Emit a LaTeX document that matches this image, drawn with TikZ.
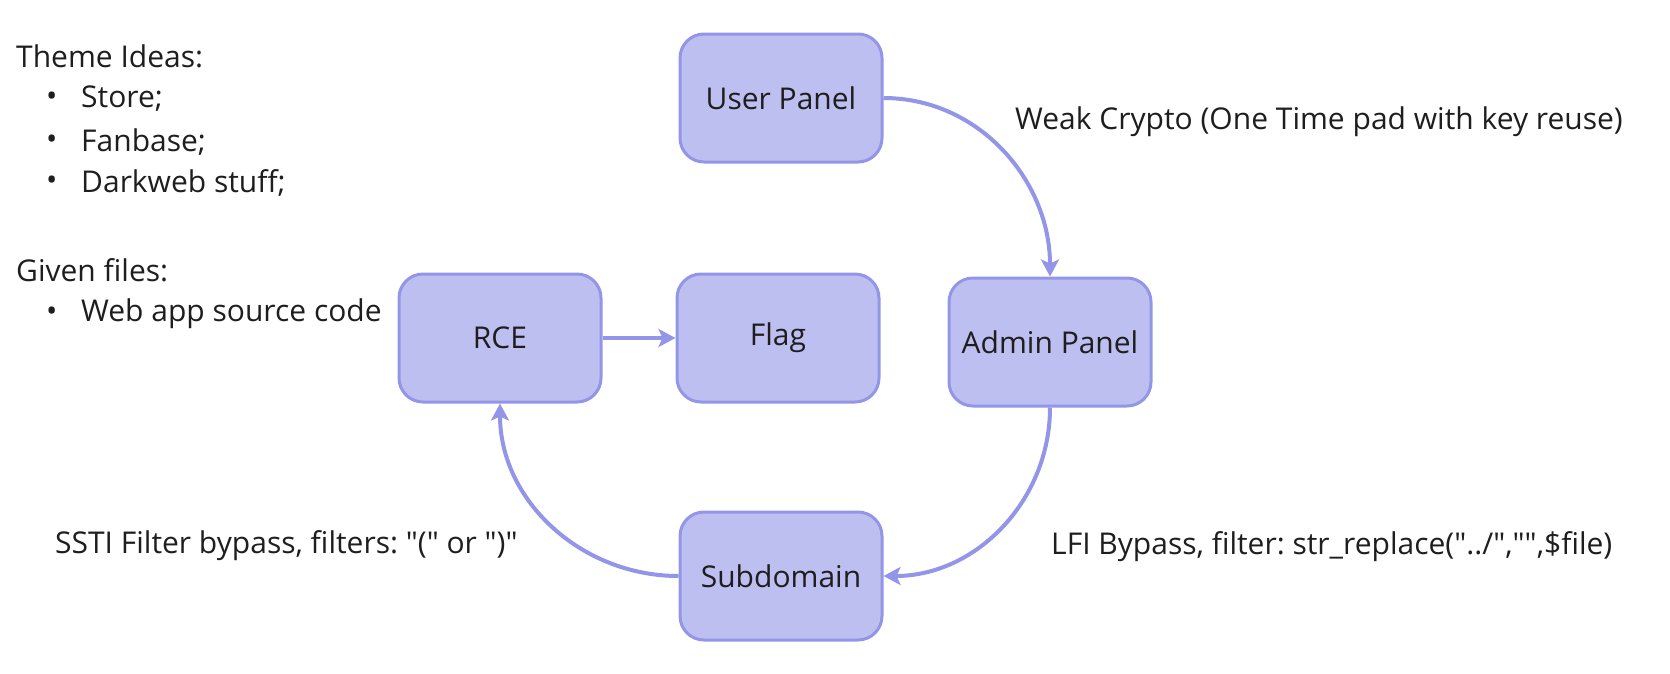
\documentclass[tikz,border=0pt]{standalone}
\usepackage{fontspec}
\setmainfont{Open Sans}
\usepackage{tikz}
\usetikzlibrary{arrows.meta, positioning}
\definecolor{lavfill}{RGB}{189,191,241}
\definecolor{lavline}{RGB}{146,149,232}
\definecolor{inkgray}{RGB}{30,30,30}
\newcommand{\dq}{\textquotedbl}
\frenchspacing

\begin{document}
\begin{tikzpicture}[
    x=1pt, y=-1pt,
    stage/.style={rectangle, rounded corners=24pt, draw=lavline, fill=lavfill,
                  line width=3pt, minimum width=202pt, minimum height=128pt,
                  inner sep=0pt, align=center, text=inkgray,
                  font=\fontsize{30}{36}\selectfont},
    note/.style={anchor=west, inner sep=0pt, text=inkgray,
                 font=\fontsize{30}{36}\selectfont},
    link/.style={-{Stealth[length=17pt, width=18pt, inset=4pt]},
                 line width=4pt, draw=lavline},
  ]
  \useasboundingbox (0,0) rectangle (1670,673);

  % notes on the left
  \node[note] (theme) at (16,56) {Theme Ideas:};
  \foreach \idea/\ypos [count=\i] in {Store;/99, Fanbase;/142, Darkweb stuff;/183} {
    \node[note] (dot\i) at (46,\ypos) {•};
    \node[note] (idea\i) at (81,\ypos) {\idea};
  }
  \node[note] (given) at (16,270) {Given files:};
  \node[note] (dot4) at (46,314) {•};
  \node[note] (source) at (81,314) {Web app source code};

  % attack chain
  \node[stage] (user) at (781,98) {User Panel};
  \node[stage] (admin) at (1050,342) {Admin Panel};
  \node[stage] (sub) at (781,576) {Subdomain};
  \node[stage] (rce) at (500,338) {RCE};
  \node[stage, right=73pt of rce] (flag) {Flag};

  \draw[link] (user.east) to[out=0, in=90] (admin.north);
  \draw[link] (admin.south) to[out=-90, in=0] (sub.east);
  \draw[link] (sub.west) to[out=180, in=-90] (rce.south);
  \draw[link] (rce) -- (flag);

  \node[note] (weak) at (1015,122) {Weak Crypto (One Time pad with key reuse)};
  \node[note] (lfi) at (1051,547) {LFI Bypass, filter: str\_replace(\dq../\dq,\dq\dq,\$file)};
  \node[note] (ssti) at (55,546) {SSTI Filter bypass, filters: \dq(\dq{} or \dq)\dq};
\end{tikzpicture}
\end{document}
